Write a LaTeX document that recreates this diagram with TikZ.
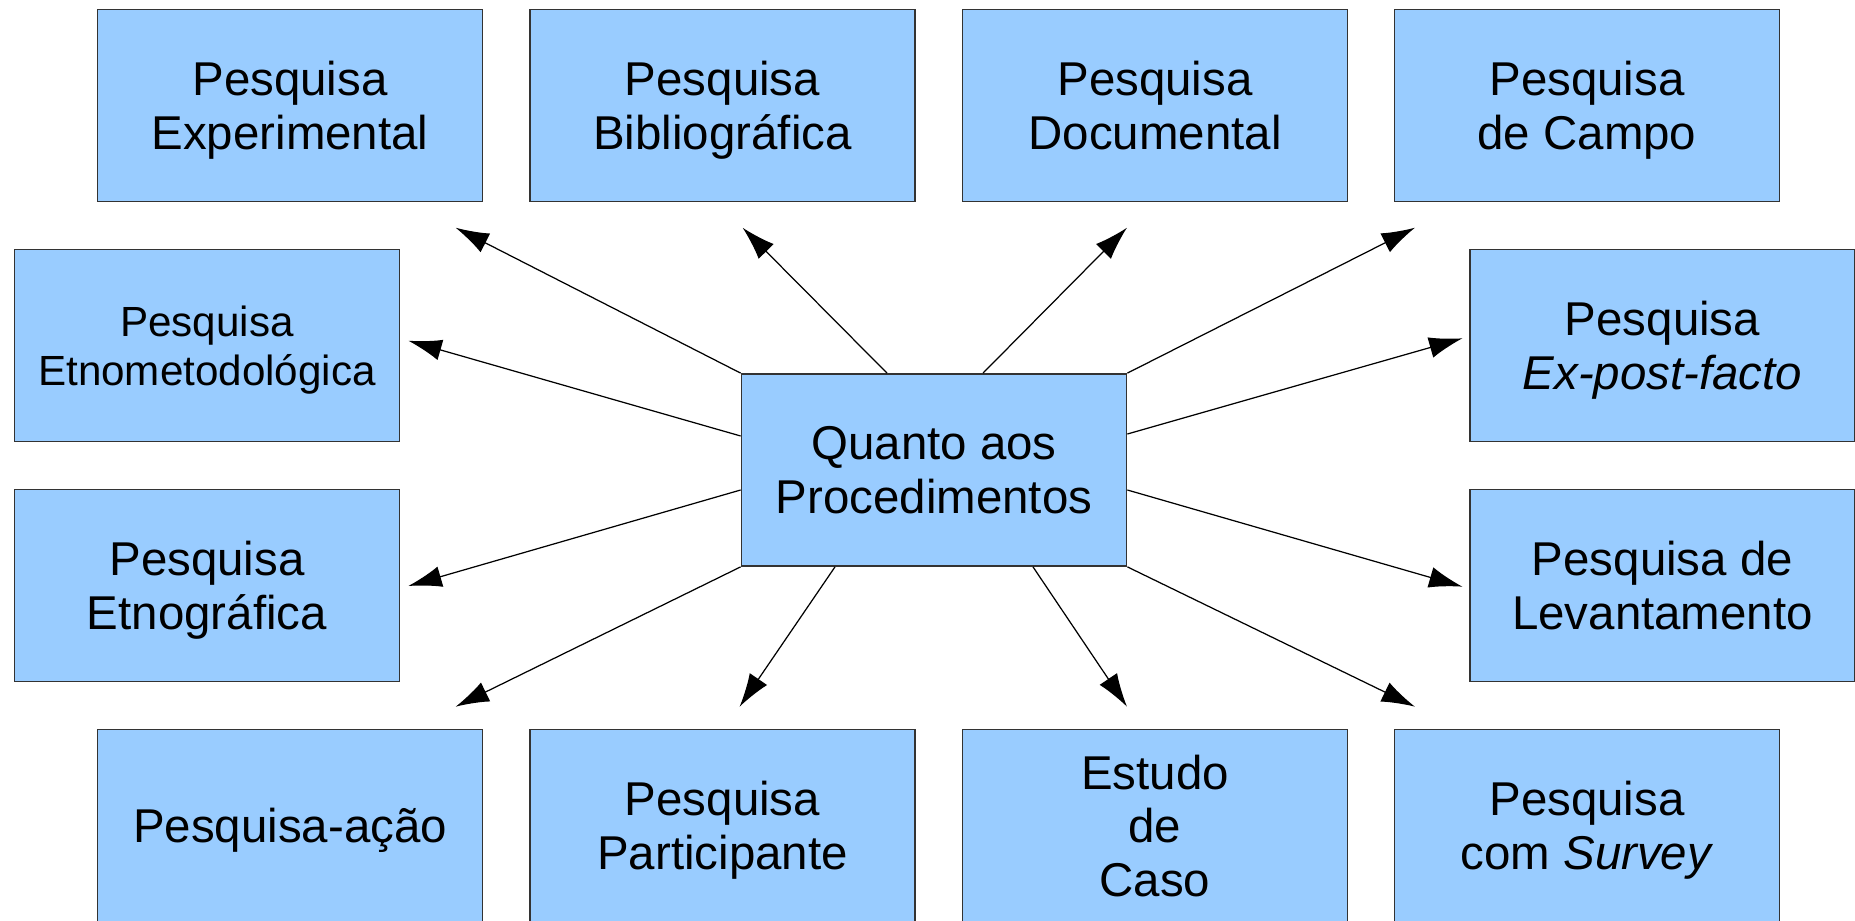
\documentclass[tikz,border=0pt]{standalone}
\usepackage{fontspec}
\setmainfont{Liberation Sans}
\usetikzlibrary{arrows.meta}
\definecolor{azul}{RGB}{153,204,255}
\begin{document}
\begin{tikzpicture}[>={Latex[length=9.5pt,width=6pt]},
    caixa/.style={draw=black!80,fill=azul,line width=0.5pt,minimum width=3.85cm,minimum height=1.92cm,inner sep=0pt,align=center,text depth=0pt,font=\fontsize{13.5}{15.2}\selectfont},
    seta/.style={->,line width=0.35pt}]
% \draw (0,0) rectangle (18.55,9.2) ;
\useasboundingbox (0,0) rectangle (18.55,9.2) ;
\clip (0,0) rectangle (18.55,9.2) ;
    \node[caixa] (exper)  at (2.90,8.145)   {Pesquisa\\Experimental};
    \node[caixa] (biblio) at (7.225,8.145)  {Pesquisa\\Bibliográfica};
    \node[caixa] (docum)  at (11.55,8.145)  {Pesquisa\\Documental};
    \node[caixa] (campo)  at (15.87,8.145)  {Pesquisa\\de Campo};
    \node[caixa,font=\fontsize{12}{14}\selectfont] (etnomet) at (2.07,5.745) {Pesquisa\\Etnometodológica};
    \node[caixa] (expost) at (16.625,5.745) {Pesquisa\\\textit{Ex-post-facto}};
    \node[caixa] (etnogr) at (2.07,3.345)   {Pesquisa\\Etnográfica};
    \node[caixa] (levant) at (16.625,3.345) {Pesquisa de\\Levantamento};
    \node[caixa] (acao)   at (2.90,0.945)   {Pesquisa-ação};
    \node[caixa] (partic) at (7.225,0.945)  {Pesquisa\\Participante};
    \node[caixa] (estudo) at (11.55,0.945)  {Estudo\\de\\Caso};
    \node[caixa] (survey) at (15.87,0.945)  {Pesquisa\\com \textit{Survey}};
    \node[caixa] (proc)   at (9.34,4.50)    {Quanto aos\\Procedimentos};
    % pontas das setas
    \coordinate (texper)  at (4.556,6.923);
    \coordinate (tbiblio) at (7.426,6.923);
    \coordinate (tdocum)  at (11.27,6.923);
    \coordinate (tcampo)  at (14.15,6.923);
    \coordinate (tetnomet) at (4.083,5.793);
    \coordinate (texpost) at (14.625,5.817);
    \coordinate (tetnogr) at (4.083,3.34);
    \coordinate (tlevant) at (14.625,3.333);
    \coordinate (tacao)   at (4.556,2.133);
    \coordinate (tpartic) at (7.396,2.133);
    \coordinate (testudo) at (11.27,2.133);
    \coordinate (tsurvey) at (14.15,2.133);
    \draw[seta] (proc.north west) -- (texper);
    \draw[seta] ([xshift=-0.47cm]proc.north) -- (tbiblio);
    \draw[seta] ([xshift=0.49cm]proc.north) -- (tdocum);
    \draw[seta] (proc.north east) -- (tcampo);
    \draw[seta] ([yshift=0.34cm]proc.west) -- (tetnomet);
    \draw[seta] ([yshift=0.36cm]proc.east) -- (texpost);
    \draw[seta] ([yshift=-0.2cm]proc.west) -- (tetnogr);
    \draw[seta] ([yshift=-0.2cm]proc.east) -- (tlevant);
    \draw[seta] (proc.south west) -- (tacao);
    \draw[seta] ([xshift=-0.99cm]proc.south) -- (tpartic);
    \draw[seta] ([xshift=0.99cm]proc.south) -- (testudo);
    \draw[seta] (proc.south east) -- (tsurvey);
\end{tikzpicture}
\end{document}
